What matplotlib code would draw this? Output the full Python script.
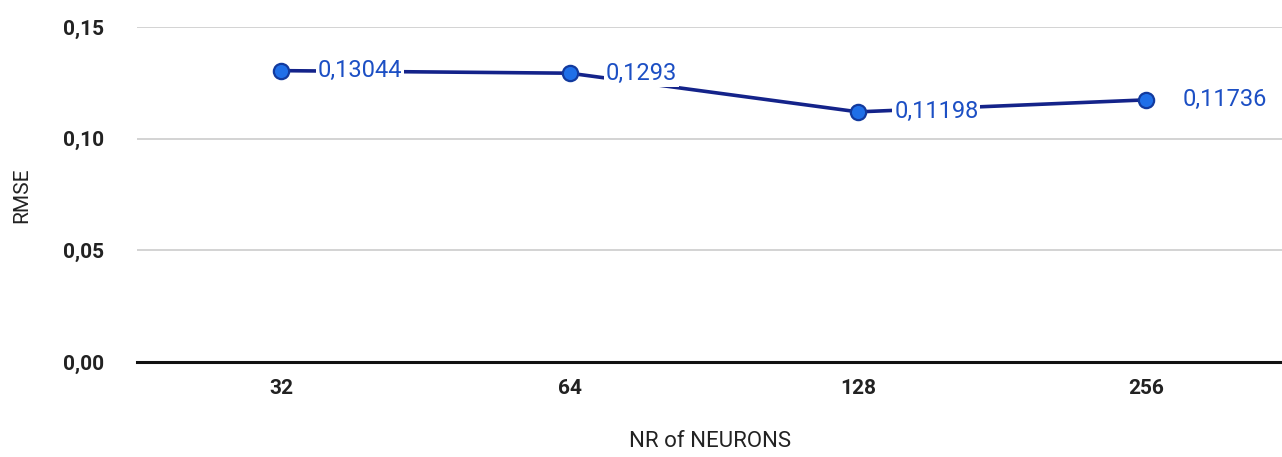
import matplotlib
matplotlib.use("Agg")
import matplotlib.pyplot as plt

neurons = ["32", "64", "128", "256"]
rmse = [0.13044, 0.1293, 0.11198, 0.11736]
point_labels = ["0,13044", "0,1293", "0,11198", "0,11736"]
y_ticks = [0.0, 0.05, 0.10, 0.15]
y_tick_labels = ["0,00", "0,05", "0,10", "0,15"]

plt.rcParams["font.family"] = ["Roboto", "DejaVu Sans"]

fig = plt.figure(figsize=(12.82, 4.57), dpi=100)
ax = fig.add_axes([0.107, 0.208, 0.893, 0.733])

x = list(range(len(neurons)))
ax.plot(x, rmse, color="#14238a", linewidth=2.6, zorder=3)
ax.plot(x, rmse, linestyle="none", marker="o", markersize=11,
        markerfacecolor="#1f6fe8", markeredgecolor="#123a9e", markeredgewidth=1.6, zorder=4)

for xi, yi, lab in zip(x, rmse, point_labels):
    ax.annotate(lab, (xi, yi), xytext=(26, 0), textcoords="offset points",
                ha="left", va="center", fontsize=17, color="#1c4fc4",
                bbox=dict(boxstyle="square,pad=0.08", facecolor="white", edgecolor="none"),
                zorder=5)

ax.set_xlim(-0.5, 3.47)
ax.set_ylim(0, 0.15)
ax.set_yticks(y_ticks)
ax.set_yticklabels(y_tick_labels)
ax.set_xticks(x)
ax.set_xticklabels(neurons)
ax.tick_params(axis="both", length=0, labelsize=15, colors="#222222")
ax.tick_params(axis="y", pad=24)
ax.tick_params(axis="x", pad=12)
for lab in ax.get_xticklabels() + ax.get_yticklabels():
    lab.set_fontweight("bold")

ax.grid(axis="y", color="#cccccc", linewidth=1.2)
ax.set_axisbelow(True)
for side in ["top", "right", "left"]:
    ax.spines[side].set_visible(False)
ax.spines["bottom"].set_color("#111111")
ax.spines["bottom"].set_linewidth(2.2)
ax.spines["bottom"].set_zorder(6)

ax.set_xlabel("NR of NEURONS", fontsize=16, color="#222222", labelpad=24)
fig.text(22 / 1282, 1 - 195 / 457, "RMSE", rotation=90, ha="center", va="center",
         fontsize=15, color="#222222")

fig.savefig("out.png", dpi=100)
